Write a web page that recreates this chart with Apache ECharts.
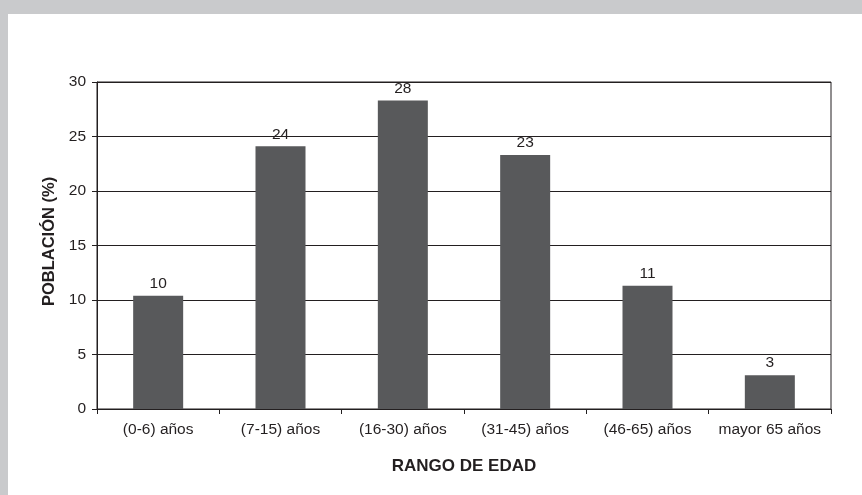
<!DOCTYPE html>
<html>
<head>
<meta charset="utf-8">
<script src="https://cdn.jsdelivr.net/npm/echarts@6/dist/echarts.min.js"></script>
<style>
  html, body { margin: 0; padding: 0; background: #c9cacc; }
  #chart { width: 862px; height: 495px; }
</style>
</head>
<body>
<div id="chart"></div>
<script>
// Age groups and the share of the population in each (%)
const categories = ['(0-6) años', '(7-15) años', '(16-30) años', '(31-45) años', '(46-65) años', 'mayor 65 años'];
const poblacion = [10.4, 24.1, 28.3, 23.3, 11.3, 3.1];
const yTicks = { min: 0, max: 30, interval: 5 };

const ink = '#231f20';
const font = '"Liberation Sans", Arial, Helvetica, sans-serif';

const chart = echarts.init(document.getElementById('chart'));
chart.setOption({
  backgroundColor: '#c9cacc',
  animation: false,
  graphic: [{
    type: 'rect',
    z: -10,
    shape: { x: 8, y: 14, width: 900, height: 500 },
    style: { fill: '#ffffff' }
  }],
  grid: {
    left: 97, right: 31, top: 82, bottom: 86,
    show: true,
    backgroundColor: '#ffffff',
    borderColor: ink,
    borderWidth: 1
  },
  xAxis: {
    type: 'category',
    data: categories,
    name: 'RANGO DE EDAD',
    nameLocation: 'middle',
    nameGap: 49,
    nameTextStyle: { fontFamily: font, fontSize: 17, fontWeight: 'bold', color: ink },
    axisLine: { lineStyle: { color: ink, width: 1 } },
    axisTick: { show: true, length: 5, alignWithLabel: false, lineStyle: { color: ink } },
    axisLabel: { fontFamily: font, fontSize: 15.5, color: ink, margin: 13, interval: 0 }
  },
  yAxis: {
    type: 'value',
    min: yTicks.min, max: yTicks.max, interval: yTicks.interval,
    name: 'POBLACIÓN (%)',
    nameLocation: 'middle',
    nameGap: 37,
    nameTextStyle: { fontFamily: font, fontSize: 16.5, fontWeight: 'bold', color: ink, padding: [0, 0, 0, 8] },
    axisLine: { show: true, lineStyle: { color: ink, width: 1 } },
    axisTick: { show: true, length: 5, lineStyle: { color: ink } },
    axisLabel: { fontFamily: font, fontSize: 15.5, color: ink, margin: 11 },
    splitLine: { show: true, lineStyle: { color: ink, width: 1 } }
  },
  series: [{
    type: 'bar',
    data: poblacion,
    barWidth: 50,
    itemStyle: { color: '#58595b' },
    label: {
      show: true,
      position: 'top',
      distance: 4,
      fontFamily: font,
      fontSize: 15.5,
      color: ink,
      formatter: p => Math.round(p.value)
    }
  }]
});
</script>
</body>
</html>
